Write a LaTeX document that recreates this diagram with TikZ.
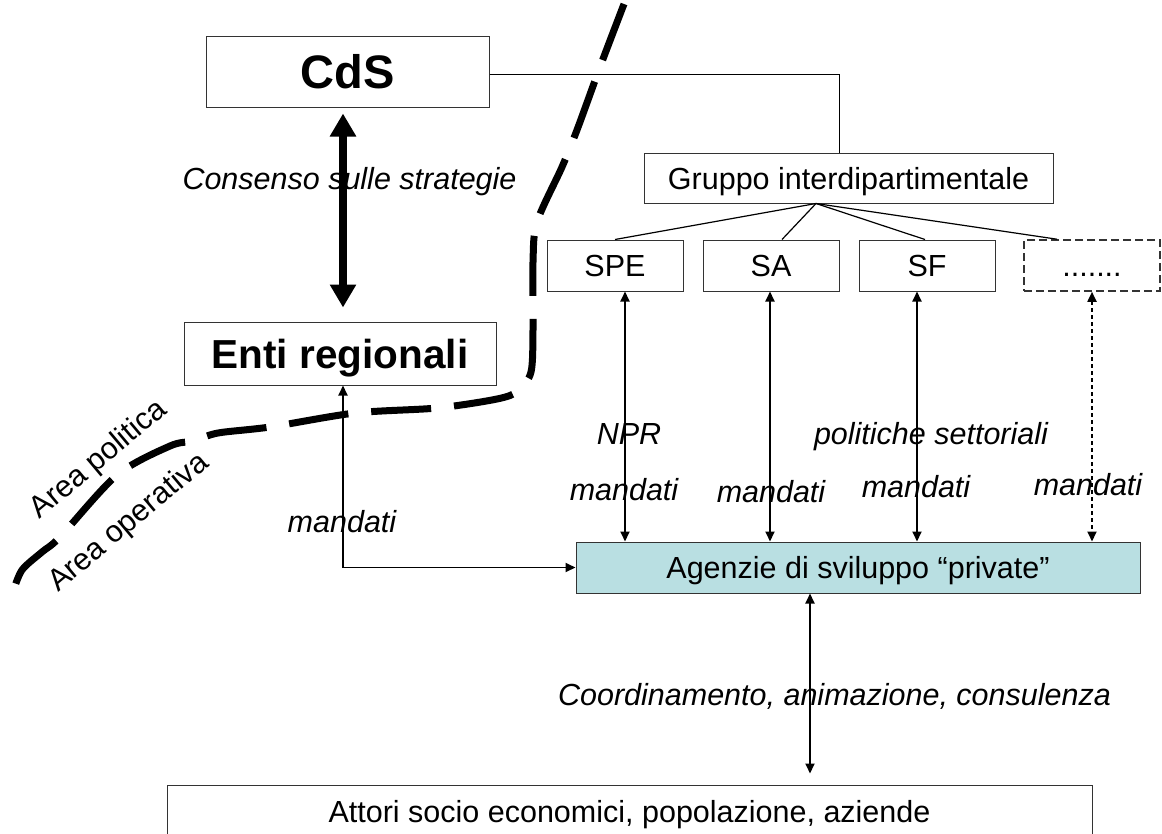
\documentclass[tikz,border=0pt]{standalone}
\usepackage{fontspec}
\setmainfont{Liberation Sans}
\usepackage{xcolor}
\usetikzlibrary{arrows.meta}
\definecolor{agzfill}{RGB}{185,223,226}

\begin{document}
\begin{tikzpicture}[x=1pt,y=-1pt,
  box/.style={draw=black!80, line width=1pt, inner sep=0pt, text depth=0pt,
    font=\fontsize{30.5}{36}\selectfont},
  lbl/.style={anchor=base, inner sep=0pt, font=\fontsize{30.5}{36}\selectfont\itshape},
  arr/.style={line width=1.8pt, {Triangle[length=10pt,width=9pt]}-{Triangle[length=10pt,width=9pt]}},
  area/.style={line width=7pt, dash pattern=on 60pt off 23pt}]
\useasboundingbox (0,0) rectangle (1162,833);
\clip (0,0) rectangle (1162,833);

\node[box, minimum width=283pt, minimum height=71pt,
  font=\fontsize{47}{56}\selectfont\bfseries] (cds) at (347.5,71.5) {CdS};
\node[box, minimum width=312pt, minimum height=63pt,
  font=\fontsize{40.5}{48}\selectfont\bfseries] (enti) at (340,353.5) {Enti regionali};
\node[box, minimum width=409pt, minimum height=50pt] (grp) at (848.5,178) {Gruppo interdipartimentale};

\node[box, minimum width=136pt, minimum height=51pt] (spe) at (615,265.5) {SPE};
\node[box, minimum width=136pt, minimum height=51pt] (sa) at (771,265.5) {SA};
\node[box, minimum width=136pt, minimum height=51pt] (sf) at (927,265.5) {SF};
\node[box, minimum width=136pt, minimum height=51pt, text height=22pt, line width=1.6pt,
  dash pattern=on 8pt off 4pt] (dots) at (1092,265.5) {.......};

\node[box, fill=agzfill, minimum width=564pt, minimum height=51pt] (agz) at (858,567.5) {Agenzie di sviluppo “private”};
\node[box, minimum width=925pt, minimum height=52pt] (att) at (629.5,811) {Attori socio economici, popolazione, aziende};

% struttura
\draw[line width=1pt] ([yshift=-2.5pt]cds.east) -| ([xshift=-9.5pt]grp.north);
\foreach \b/\dx in {spe/0,sa/11,sf/-2,dots/-35}
  \draw[line width=1.2pt] ([xshift=-32.5pt]grp.south) -- ([xshift=\dx pt]\b.north);

\draw[line width=8pt, {Triangle[length=23pt,width=25pt]}-{Triangle[length=23pt,width=25pt]},
  shorten <=6pt, shorten >=14pt] ([xshift=-4.5pt]cds.south) -- ([xshift=3pt]enti.north);
\draw[arr] ([xshift=3pt]enti.south) |- (agz.west);

\foreach \b/\dx in {spe/10,sa/-1,sf/-10}
  \draw[arr] ([xshift=\dx pt]\b.south) -- ([xshift=\dx pt]\b.south |- agz.north);
\draw[arr, dash pattern=on 4pt off 3pt] (dots.south) -- (dots.south |- agz.north);
\draw[arr, shorten >=11pt] ([xshift=-48pt]agz.south) -- ([xshift=-48pt]agz.south |- att.north);

% etichette
\node[lbl] (cons) at (349.5,189) {Consenso sulle strategie};
\node[lbl] (npr) at (629,444) {NPR};
\node[lbl] (pol) at (931,444) {politiche settoriali};
\node[lbl] (m1) at (624,500) {mandati};
\node[lbl] (m2) at (771,502) {mandati};
\node[lbl] (m3) at (916,497) {mandati};
\node[lbl] (m4) at (1088,495) {mandati};
\node[lbl] (m0) at (342,532) {mandati};
\node[lbl] (coord) at (834.5,705) {Coordinamento, animazione, consulenza};

% confine tra le aree
\draw[area] plot[smooth, tension=0.5] coordinates {(624,4) (600,67) (577,130) (562,167)
  (537,222) (533,262) (533,330) (531,372) (518,391) (497,399) (437,408) (355,413)
  (270,427) (218,433) (193,441) (170,446) (117,475) (60,537) (42,552) (22,570) (13,592)};
\node[rotate=40, inner sep=0pt, font=\fontsize{30.5}{36}\selectfont] (apol) at (99,460) {Area politica};
\node[rotate=40, inner sep=0pt, font=\fontsize{30.5}{36}\selectfont] (aop) at (129,523) {Area operativa};

\end{tikzpicture}
\end{document}
